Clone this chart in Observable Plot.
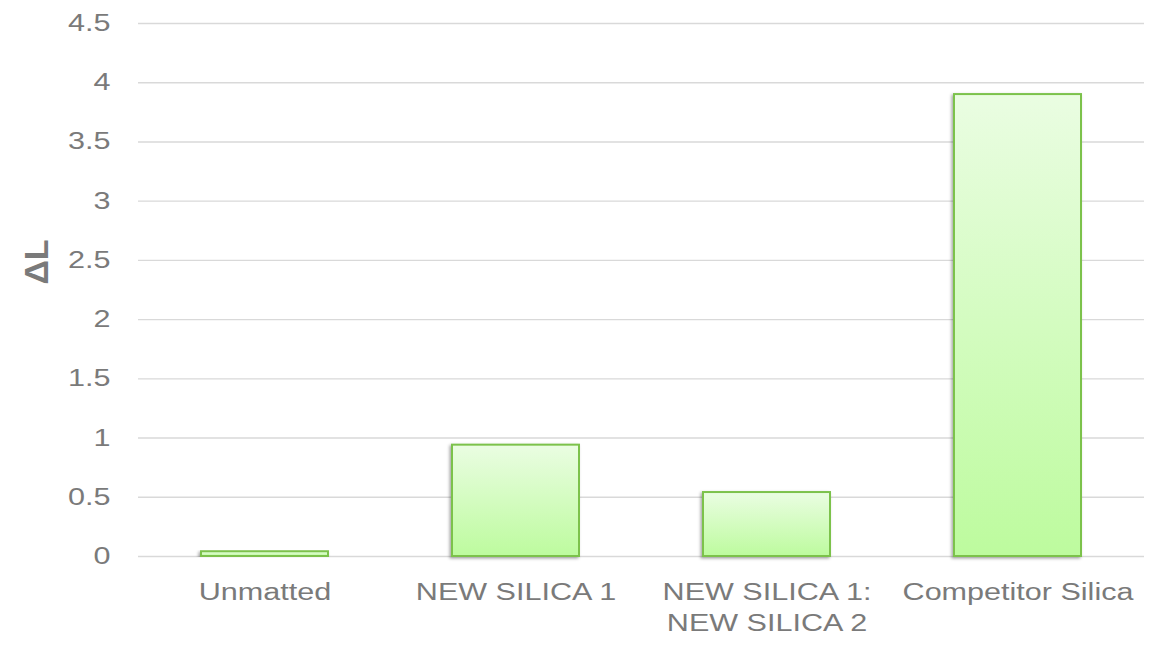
<!DOCTYPE html>
<html><head><meta charset="utf-8">
<script src="https://cdn.jsdelivr.net/npm/d3@7"></script>
<script src="https://cdn.jsdelivr.net/npm/@observablehq/plot@0.6"></script>
<style>body{margin:0;background:#fff;}</style>
</head><body><div id="chart"></div>
<script>
const categories = ["Unmatted", "NEW SILICA 1", "NEW SILICA 1:\nNEW SILICA 2", "Competitor Silica"];
const values = [0.04, 0.94, 0.54, 3.9];
const yTicks = [0, 0.5, 1, 1.5, 2, 2.5, 3, 3.5, 4, 4.5];
const yLabel = "ΔL";
const data = categories.map((c, i) => ({category: c, value: values[i]}));

const plot = Plot.plot({
  width: 1166, height: 646,
  marginLeft: 138, marginRight: 22, marginTop: 23, marginBottom: 90,
  style: {fontFamily: "'Liberation Sans', Arial, sans-serif", fontSize: "23px", color: "#7f7f7f", background: "#fff"},
  x: {domain: categories, paddingInner: 0.495, paddingOuter: 0.2475, label: null},
  y: {domain: [0, 4.5], ticks: yTicks, label: null},
  marks: [
    Plot.ruleY(yTicks, {stroke: "#d9d9d9", strokeWidth: 1.4}),
    Plot.barY(data, {x: "category", y: "value", fill: "url(#barGrad)", stroke: "#7cc24b", strokeWidth: 2}),
    Plot.axisX({tickSize: 0, tickPadding: 22, lineHeight: 1.3, fill: "#7a7a7a", fontSize: 23.5}),
    Plot.axisY({ticks: yTicks, tickSize: 0, tickPadding: 28, fill: "#7a7a7a", fontSize: 23.5, label: null, tickFormat: d => String(d)}),
    Plot.text([yLabel], {frameAnchor: "left", textAnchor: "middle", dx: -101, dy: -28, rotate: -90, fontWeight: "bold", fontSize: 34, fill: "#7a7a7a"})
  ]
});

document.getElementById("chart").appendChild(plot);

const svg = d3.select(plot);
const defs = svg.insert("defs", ":first-child");
const grad = defs.append("linearGradient").attr("id", "barGrad").attr("x1", 0).attr("y1", 0).attr("x2", 0).attr("y2", 1);
grad.append("stop").attr("offset", "0%").attr("stop-color", "#eafde2");
grad.append("stop").attr("offset", "100%").attr("stop-color", "#bdfb9e");
const f = defs.append("filter").attr("id", "barShadow").attr("x", "-10%").attr("y", "-10%").attr("width", "120%").attr("height", "130%");
f.append("feDropShadow").attr("dx", -1.5).attr("dy", 1.5).attr("stdDeviation", 1.5).attr("flood-color", "#000").attr("flood-opacity", 0.35);
svg.selectAll("g[aria-label='bar'] rect").attr("filter", "url(#barShadow)");

// horizontal stretch of tick labels to match the reference's wide glyphs
svg.selectAll("g[aria-label='x-axis tick label'] text, g[aria-label='y-axis tick label'] text").each(function() {
  const tsp = this.querySelectorAll("tspan");
  const els = tsp.length ? Array.from(tsp) : [this];
  els.forEach(el => {
    const len = el.getComputedTextLength();
    el.setAttribute("textLength", (len * 1.3).toFixed(1));
    el.setAttribute("lengthAdjust", "spacingAndGlyphs");
  });
});
</script>
</body></html>
